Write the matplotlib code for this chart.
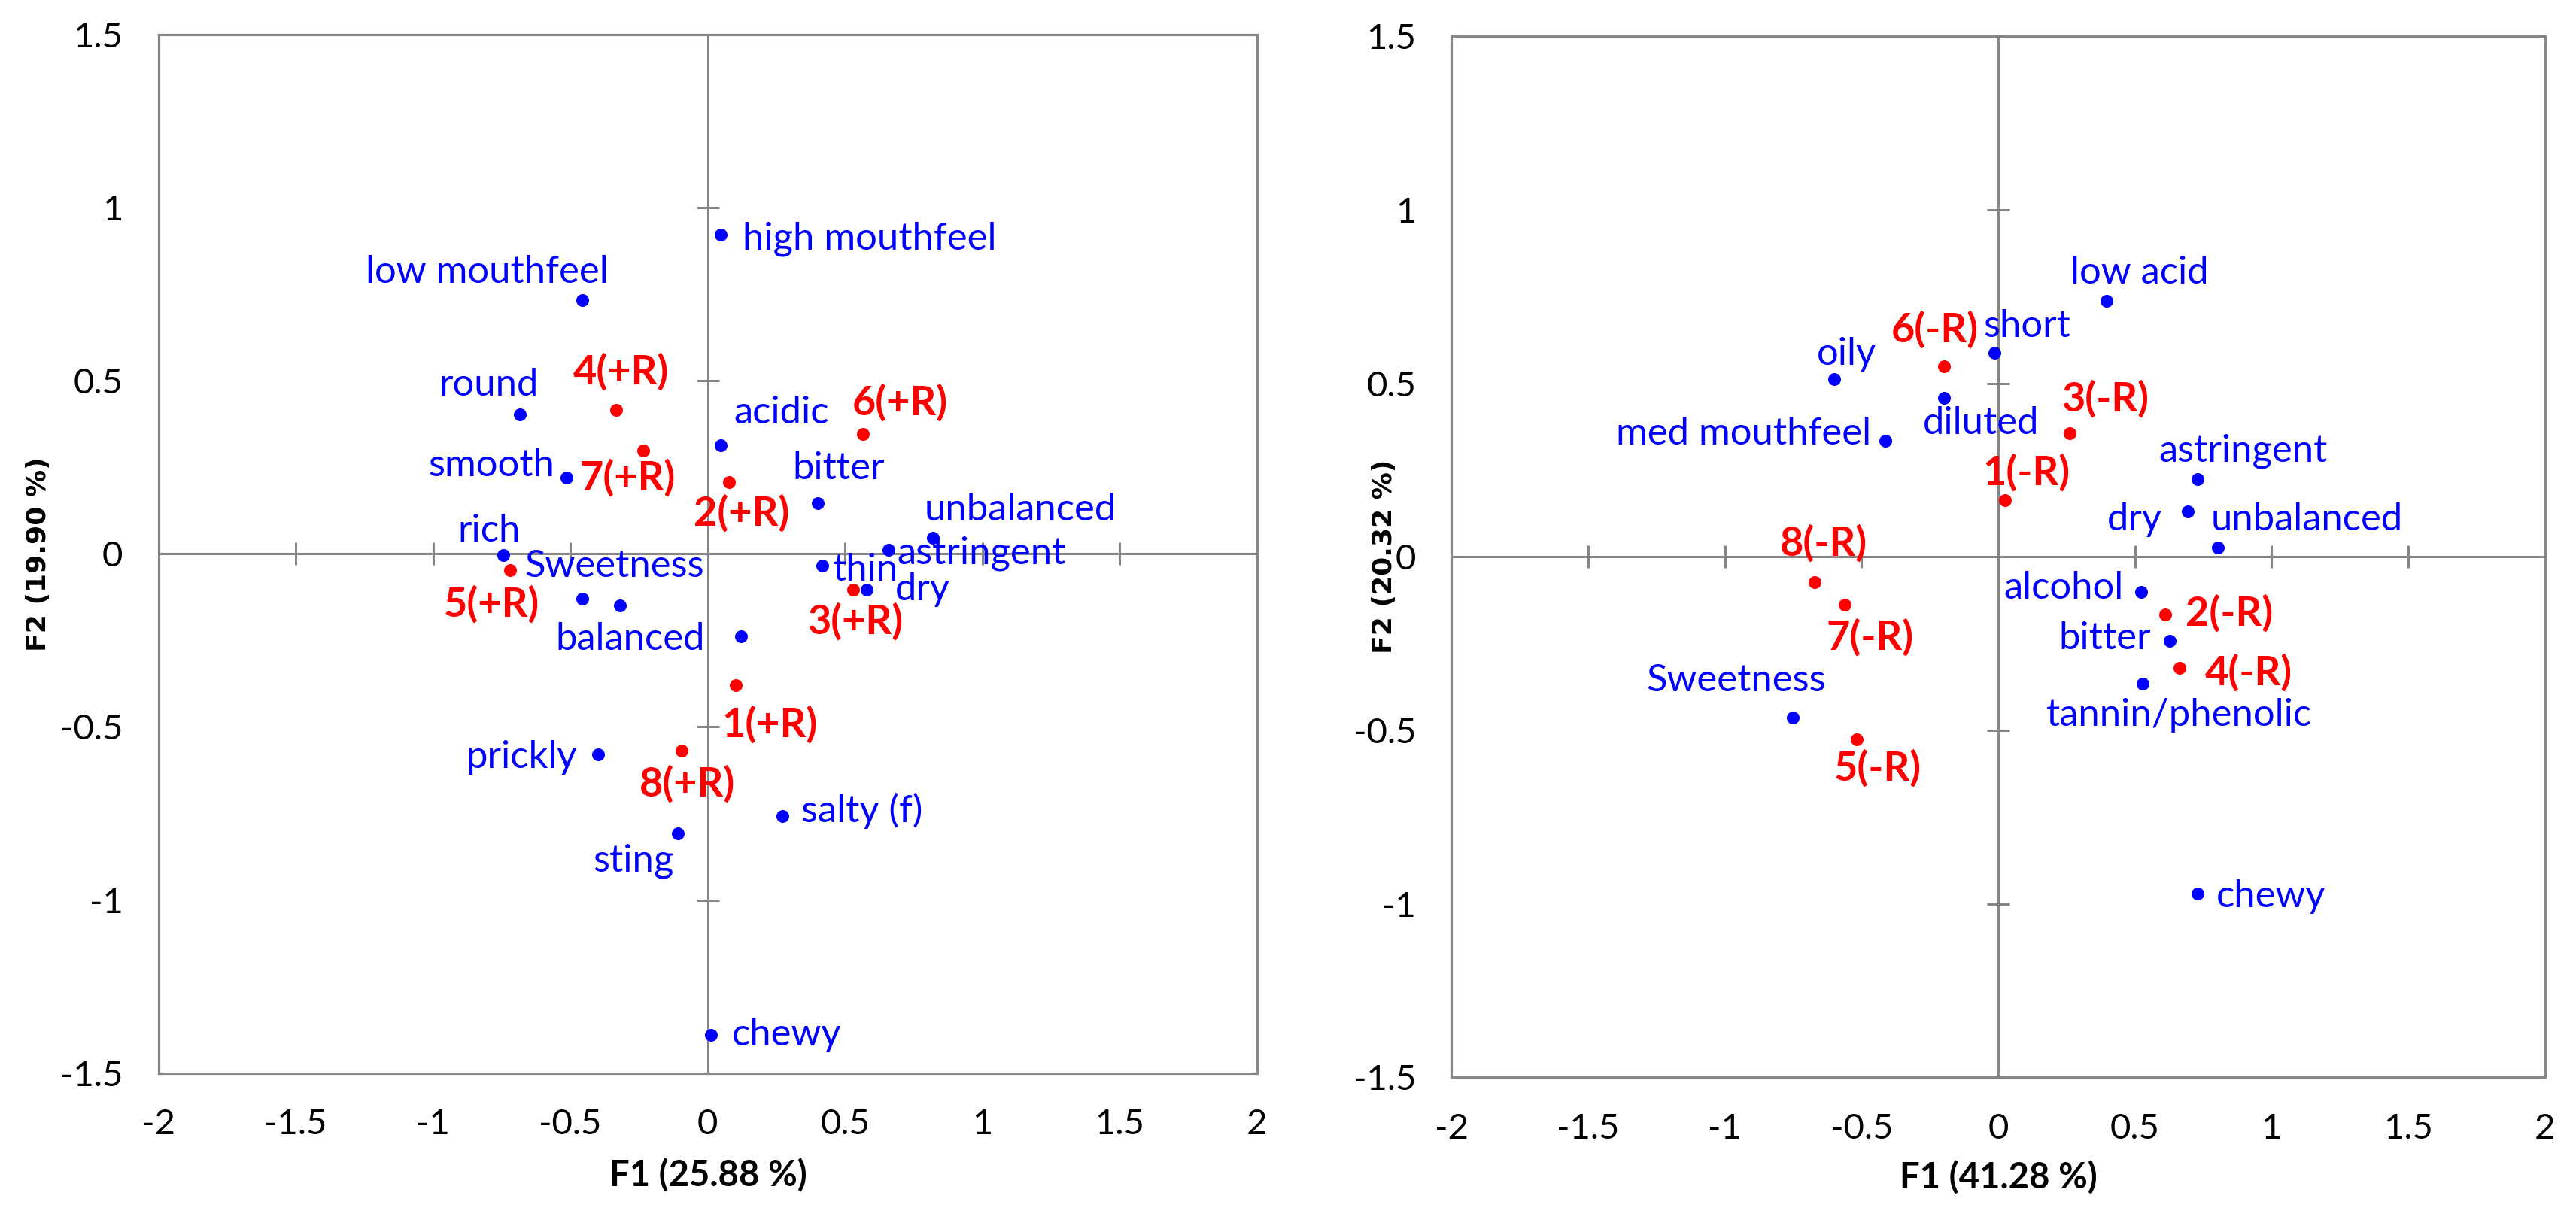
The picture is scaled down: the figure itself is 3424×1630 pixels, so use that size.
import matplotlib
matplotlib.use('Agg')
import matplotlib.pyplot as plt
from matplotlib.ticker import FuncFormatter

plt.rcParams['axes.unicode_minus'] = False
plt.rcParams['font.family'] = ['Lato', 'DejaVu Sans']

# ---- data: left map (+R) ----
attr_left = ['high mouthfeel', 'low mouthfeel', 'round', 'acidic', 'smooth', 'bitter',
             'unbalanced', 'astringent', 'rich', 'thin', 'dry', 'Sweetness', '',
             'balanced', 'prickly', 'salty (f)', 'sting', 'chewy']
attr_left_f1 = [0.049, -0.456, -0.684, 0.049, -0.513, 0.400, 0.820, 0.659, -0.743, 0.417,
                0.578, -0.457, -0.320, 0.121, -0.400, 0.271, -0.109, 0.013]
attr_left_f2 = [0.922, 0.733, 0.402, 0.314, 0.219, 0.145, 0.046, 0.011, -0.004, -0.035,
                -0.103, -0.130, -0.150, -0.239, -0.580, -0.757, -0.807, -1.389]

prod_left = ['1(+R)', '2(+R)', '3(+R)', '4(+R)', '5(+R)', '6(+R)', '7(+R)', '8(+R)']
prod_left_f1 = [0.102, 0.079, 0.530, -0.334, -0.720, 0.566, -0.235, -0.094]
prod_left_f2 = [-0.380, 0.207, -0.103, 0.416, -0.048, 0.346, 0.298, -0.569]

# ---- data: right map (-R) ----
attr_right = ['low acid', 'short', 'oily', 'diluted', 'med mouthfeel', 'astringent', 'dry',
              'unbalanced', 'alcohol', 'bitter', 'tannin/phenolic', 'Sweetness', 'chewy']
attr_right_f1 = [0.396, -0.013, -0.600, -0.198, -0.412, 0.730, 0.694, 0.803, 0.524, 0.627,
                 0.530, -0.751, 0.730]
attr_right_f2 = [0.738, 0.588, 0.513, 0.459, 0.334, 0.225, 0.131, 0.027, -0.100, -0.241,
                 -0.366, -0.462, -0.971]

prod_right = ['1(-R)', '2(-R)', '3(-R)', '4(-R)', '5(-R)', '6(-R)', '7(-R)', '8(-R)']
prod_right_f1 = [0.025, 0.612, 0.261, 0.665, -0.517, -0.197, -0.562, -0.670]
prod_right_f2 = [0.164, -0.167, 0.357, -0.319, -0.526, 0.550, -0.138, -0.072]

x_title = ['F1 (25.88 %)', 'F1 (41.28 %)']
y_title = ['F2 (19.90 %)', 'F2 (20.32 %)']

# label placement (pixel offsets from the point, horizontal alignment)
lab_left = {
    'high mouthfeel': (29, -6, 'left'), 'low mouthfeel': (-127, 37, 'center'),
    'round': (-41, 39, 'center'), 'acidic': (80, 43, 'center'),
    'smooth': (-16, 16, 'right'), 'bitter': (28, 46, 'center'),
    'unbalanced': (116, 37, 'center'), 'astringent': (11, -5, 'left'),
    'rich': (-19, 32, 'center'), 'thin': (14, -6, 'left'), 'dry': (38, 0, 'left'),
    'Sweetness': (43, 43, 'center'), 'balanced': (-48, -4, 'right'),
    'prickly': (-28, -4, 'right'), 'salty (f)': (25, 7, 'left'),
    'sting': (-59, -37, 'center'), 'chewy': (28, 0, 'left'),
    '1(+R)': (45, -52, 'center'), '2(+R)': (16, -41, 'center'), '3(+R)': (3, -43, 'center'),
    '4(+R)': (7, 51, 'center'), '5(+R)': (-25, -45, 'center'), '6(+R)': (49, 42, 'center'),
    '7(+R)': (-21, -36, 'center'), '8(+R)': (7, -44, 'center'),
}
lab_right = {
    'low acid': (44, 37, 'center'), 'short': (43, 35, 'center'), 'oily': (17, 33, 'center'),
    'diluted': (49, -34, 'center'), 'med mouthfeel': (-19, 9, 'right'),
    'astringent': (60, 37, 'center'), 'dry': (-34, -11, 'right'),
    'unbalanced': (119, 37, 'center'), 'alcohol': (-24, 5, 'right'),
    'bitter': (-25, 3, 'right'), 'tannin/phenolic': (48, -42, 'center'),
    'Sweetness': (-75, 49, 'center'), 'chewy': (25, -4, 'left'),
    '1(-R)': (29, 37, 'center'), '2(-R)': (27, 2, 'left'), '3(-R)': (48, 45, 'center'),
    '4(-R)': (33, -7, 'left'), '5(-R)': (28, -38, 'center'), '6(-R)': (-13, 48, 'center'),
    '7(-R)': (34, -43, 'center'), '8(-R)': (11, 51, 'center'),
}

grey = '#868686'
ticks_x = [-2, -1.5, -1, -0.5, 0, 0.5, 1, 1.5, 2]
ticks_y = [-1.5, -1, -0.5, 0, 0.5, 1, 1.5]

fig = plt.figure(figsize=(34.24, 16.30), dpi=100)
ax1 = fig.add_axes([0.06154, 0.12472, 0.42634, 0.84724])
ax2 = fig.add_axes([0.56346, 0.12117, 0.42442, 0.84920])


def draw_map(ax, anames, ax_f1, ax_f2, pnames, p_f1, p_f2, labs):
    ax.set_xlim(-2, 2)
    ax.set_ylim(-1.5, 1.5)
    ax.set_xticks(ticks_x)
    ax.set_yticks(ticks_y)
    fmt = FuncFormatter(lambda v, p: '%g' % v)
    ax.xaxis.set_major_formatter(fmt)
    ax.yaxis.set_major_formatter(fmt)
    ax.tick_params(length=0, labelsize=34, pad=34)
    for s in ax.spines.values():
        s.set_color(grey)
        s.set_linewidth(2.3)

    # axes through the origin with crossing ticks
    ax.axhline(0, color=grey, lw=2.2, zorder=1)
    ax.axvline(0, color=grey, lw=2.2, zorder=1)
    inner_x = [t for t in ticks_x if abs(t) not in (0, 2)]
    inner_y = [t for t in ticks_y if abs(t) not in (0, 1.5)]
    ax.plot(inner_x, [0] * len(inner_x), ls='none', marker='|', ms=22, mew=2.2, color=grey, zorder=1)
    ax.plot([0] * len(inner_y), inner_y, ls='none', marker='_', ms=22, mew=2.2, color=grey, zorder=1)

    ax.scatter(ax_f1, ax_f2, s=150, color='#0000FF', zorder=3, linewidths=0)
    ax.scatter(p_f1, p_f2, s=150, color='#FF0000', zorder=3, linewidths=0)

    for n, x, y in zip(anames, ax_f1, ax_f2):
        if not n:
            continue
        dx, dy, ha = labs[n]
        ax.annotate(n, (x, y), xytext=(dx, dy), textcoords='offset pixels',
                    ha=ha, va='center', color='#0000FF', fontsize=36.5, zorder=4)
    for n, x, y in zip(pnames, p_f1, p_f2):
        dx, dy, ha = labs[n]
        ax.annotate(n, (x, y), xytext=(dx, dy), textcoords='offset pixels',
                    ha=ha, va='center', color='#FF0000', fontsize=39,
                    fontweight='bold', zorder=4)


draw_map(ax1, attr_left, attr_left_f1, attr_left_f2, prod_left, prod_left_f1, prod_left_f2, lab_left)
draw_map(ax2, attr_right, attr_right_f1, attr_right_f2, prod_right, prod_right_f1, prod_right_f2, lab_right)

# axis titles
fig.text(941 / 3424, 1 - 1563 / 1630, x_title[0], ha='center', va='center',
         fontsize=34, fontweight='bold')
fig.text(2656 / 3424, 1 - 1566 / 1630, x_title[1], ha='center', va='center',
         fontsize=34, fontweight='bold')
fig.text(51 / 3424, 1 - 737 / 1630, y_title[0], ha='center', va='center', rotation=90,
         fontsize=26, fontweight='bold', family='DejaVu Sans')
fig.text(1840 / 3424, 1 - 740 / 1630, y_title[1], ha='center', va='center', rotation=90,
         fontsize=26, fontweight='bold', family='DejaVu Sans')

fig.savefig('out.png', dpi=100, facecolor='white')
